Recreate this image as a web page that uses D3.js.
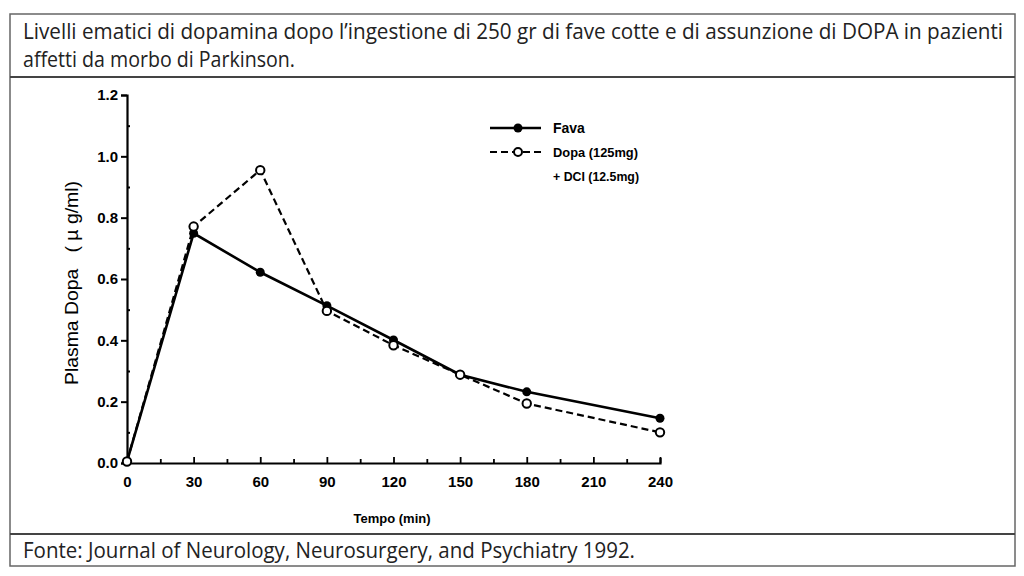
<!DOCTYPE html>
<html><head><meta charset="utf-8">
<script src="https://cdn.jsdelivr.net/npm/d3@7"></script>
<style>html,body{margin:0;padding:0;background:#fff;}svg{display:block;}</style>
</head><body>
<svg id="c" width="1024" height="576"></svg>
<script>
const times = [0, 30, 60, 90, 120, 150, 180, 240];
const fava = [0.005, 0.749, 0.622, 0.513, 0.401, 0.288, 0.232, 0.146];
const dopa = [0.005, 0.771, 0.955, 0.496, 0.384, 0.288, 0.194, 0.100];
const xTicks = [0, 30, 60, 90, 120, 150, 180, 210, 240];
const yTicks = [0.0, 0.2, 0.4, 0.6, 0.8, 1.0, 1.2];
const titleLines = ["Livelli ematici di dopamina dopo l\u2019ingestione di 250 gr di fave cotte e di assunzione di DOPA in pazienti", "affetti da morbo di Parkinson."];
const sourceText = "Fonte: Journal of Neurology, Neurosurgery, and Psychiatry 1992.";
const legendLabels = ["Fava", "Dopa (125mg)", "+ DCI (12.5mg)"];

const svg = d3.select("#c");
const frameFont = "'Liberation Sans Narrow','Open Sans',sans-serif";
const chartFont = "'Liberation Sans','Arial',sans-serif";

// Frame
svg.append("rect").attr("x",10).attr("y",14).attr("width",1005).attr("height",552)
  .attr("fill","none").attr("stroke","#666").attr("stroke-width",1.5);
svg.append("line").attr("x1",10).attr("x2",1015).attr("y1",77).attr("y2",77).attr("stroke","#444").attr("stroke-width",2);
svg.append("line").attr("x1",10).attr("x2",1015).attr("y1",534).attr("y2",534).attr("stroke","#444").attr("stroke-width",2);

svg.append("text").attr("x",23).attr("y",39).attr("font-family",frameFont).attr("font-size",21).attr("fill","#222")
  .attr("textLength",980).attr("lengthAdjust","spacingAndGlyphs").text(titleLines[0]);
svg.append("text").attr("x",23).attr("y",67).attr("font-family",frameFont).attr("font-size",21).attr("fill","#222")
  .attr("textLength",272).attr("lengthAdjust","spacingAndGlyphs").text(titleLines[1]);
svg.append("text").attr("x",23).attr("y",558).attr("font-family",frameFont).attr("font-size",21).attr("fill","#222")
  .attr("textLength",612).attr("lengthAdjust","spacingAndGlyphs").text(sourceText);

// Scales
const x = d3.scaleLinear().domain([0,240]).range([127,660]);
const y = d3.scaleLinear().domain([0,1.2]).range([463,95]);

// Axes
const gx = svg.append("g").attr("transform","translate(0,463)");
gx.call(d3.axisBottom(x).tickValues(d3.range(0,241,15)).tickSize(-5).tickFormat(""));
gx.select(".domain").attr("stroke","#000").attr("stroke-width",2.2);
gx.selectAll(".tick line").attr("stroke","#000").attr("stroke-width",1.8)
  .attr("y2", d => d % 30 === 0 ? -6 : -4);
const gxl = svg.append("g").attr("transform","translate(0,463)");
gxl.call(d3.axisBottom(x).tickValues(xTicks).tickSize(0).tickPadding(13));
gxl.select(".domain").remove();
gxl.selectAll("text").attr("font-family",chartFont).attr("font-weight","bold").attr("font-size",15).attr("fill","#000");

const gy = svg.append("g").attr("transform","translate(127,0)");
gy.call(d3.axisLeft(y).tickValues(yTicks).tickSize(6).tickPadding(3).tickFormat(d3.format(".1f")));
gy.select(".domain").attr("stroke","#000").attr("stroke-width",2.2);
gy.selectAll(".tick line").attr("stroke","#000").attr("stroke-width",2);
gy.selectAll("text").attr("font-family",chartFont).attr("font-weight","bold").attr("font-size",15).attr("fill","#000");
const gym = svg.append("g").attr("transform","translate(127,0)");
gym.call(d3.axisRight(y).tickValues([0.1,0.3,0.5,0.7,0.9,1.1]).tickSize(3).tickFormat(""));
gym.select(".domain").remove();
gym.selectAll(".tick line").attr("stroke","#000").attr("stroke-width",2);

// Axis titles
svg.append("text").attr("x",392).attr("y",523).attr("text-anchor","middle").attr("font-family",chartFont)
  .attr("font-weight","bold").attr("font-size",13).text("Tempo (min)");
svg.append("text").attr("transform","translate(78,283) rotate(-90)").attr("text-anchor","middle")
  .attr("font-family",chartFont).attr("font-size",18).attr("textLength",204).attr("lengthAdjust","spacingAndGlyphs")
  .attr("xml:space","preserve").text("Plasma Dopa   ( \u00b5 g/ml)");

// Lines
const line = d3.line().x((d,i)=>x(times[i])).y(d=>y(d));
svg.append("path").datum(dopa).attr("d",line).attr("fill","none").attr("stroke","#000").attr("stroke-width",2.2).attr("stroke-dasharray","7,4");
svg.append("path").datum(fava).attr("d",line).attr("fill","none").attr("stroke","#000").attr("stroke-width",2.6);
svg.selectAll(".mf").data(fava).enter().append("circle").attr("cx",(d,i)=>x(times[i])).attr("cy",d=>y(d)).attr("r",4.5).attr("fill","#000");
svg.selectAll(".md").data(dopa).enter().append("circle").attr("cx",(d,i)=>x(times[i])).attr("cy",d=>y(d)).attr("r",4.2).attr("fill","#fff").attr("stroke","#000").attr("stroke-width",2);

// Legend
const lg = svg.append("g");
lg.append("line").attr("x1",490).attr("x2",541).attr("y1",128).attr("y2",128).attr("stroke","#000").attr("stroke-width",2.4);
lg.append("circle").attr("cx",518).attr("cy",128).attr("r",4.5).attr("fill","#000");
lg.append("line").attr("x1",490).attr("x2",541).attr("y1",152).attr("y2",152).attr("stroke","#000").attr("stroke-width",2).attr("stroke-dasharray","7,4");
lg.append("circle").attr("cx",518).attr("cy",152).attr("r",4).attr("fill","#fff").attr("stroke","#000").attr("stroke-width",2);
lg.append("text").attr("x",553).attr("y",133).attr("font-family",chartFont).attr("font-weight","bold").attr("font-size",14).text(legendLabels[0]);
lg.append("text").attr("x",553).attr("y",157).attr("font-family",chartFont).attr("font-weight","bold").attr("font-size",13)
  .attr("textLength",85).attr("lengthAdjust","spacingAndGlyphs").text(legendLabels[1]);
lg.append("text").attr("x",553).attr("y",181).attr("font-family",chartFont).attr("font-weight","bold").attr("font-size",13)
  .attr("textLength",86).attr("lengthAdjust","spacingAndGlyphs").text(legendLabels[2]);
</script>
</body></html>
